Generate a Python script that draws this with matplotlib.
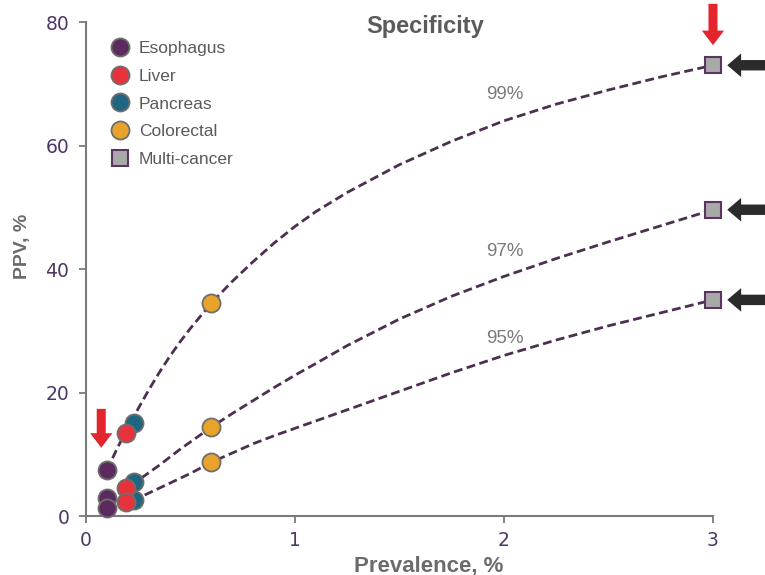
import matplotlib
matplotlib.use("Agg")
import matplotlib.pyplot as plt
from matplotlib.lines import Line2D

# ---- data ----
spec_labels = ["99%", "97%", "95%"]

curve_x = [0.1, 0.15, 0.2, 0.25, 0.3, 0.35, 0.4, 0.45, 0.5, 0.6, 0.7, 0.8, 0.9, 1.0, 1.1,
           1.25, 1.5, 1.75, 2.0, 2.25, 2.5, 2.75, 3.0]
curve_99 = [7.4, 11.0, 14.3, 17.4, 20.4, 23.2, 25.8, 28.2, 30.4, 34.5, 38.0, 41.2, 44.2, 46.9, 49.3,
            52.4, 56.9, 60.7, 64.0, 66.7, 69.0, 71.1, 73.0]
curve_97 = [2.9, 3.7, 4.7, 5.8, 7.0, 8.2, 9.5, 10.8, 12.0, 14.4, 16.6, 18.7, 20.8, 22.8, 24.7,
            27.6, 31.9, 35.6, 38.8, 41.7, 44.4, 47.0, 49.6]
curve_95 = [1.3, 1.8, 2.4, 2.9, 3.7, 4.5, 5.3, 6.1, 6.9, 8.7, 10.2, 11.7, 13.0, 14.2, 15.4,
            17.2, 20.2, 23.2, 26.0, 28.5, 30.8, 32.9, 35.0]

cancers = ["Esophagus", "Liver", "Pancreas", "Colorectal", "Multi-cancer"]
prevalence = {"Esophagus": 0.1, "Liver": 0.19, "Pancreas": 0.23, "Colorectal": 0.6, "Multi-cancer": 3.0}
ppv_values = {  # PPV at specificity 99%, 97%, 95%
    "Esophagus": [7.4, 2.9, 1.3],
    "Liver": [13.4, 4.5, 2.3],
    "Pancreas": [15.1, 5.5, 2.6],
    "Colorectal": [34.5, 14.4, 8.7],
    "Multi-cancer": [73.0, 49.6, 35.0],
}
colors = {"Esophagus": "#5c2a5f", "Liver": "#e8323b", "Pancreas": "#1e6682",
          "Colorectal": "#e9a32a", "Multi-cancer": "#a9a9a9"}
draw_order = ["Esophagus", "Pancreas", "Liver", "Colorectal", "Multi-cancer"]

xticks = [0, 1, 2, 3]
yticks = [0, 20, 40, 60, 80]

SANS = ["Liberation Sans", "DejaVu Sans"]

# ---- figure ----
fig = plt.figure(figsize=(7.65, 5.75), dpi=100)
ax = fig.add_axes([0.1124, 0.1026, 0.8196, 0.8591])

line_col = "#4d2f52"
for ys in (curve_99, curve_97, curve_95):
    ax.plot(curve_x, ys, linestyle=(0, (3.2, 1.6)), color=line_col, lw=2.0, zorder=2)

for c in draw_order:
    x = prevalence[c]
    for y in ppv_values[c]:
        if c == "Multi-cancer":
            ax.plot(x, y, marker="s", ms=11, mfc=colors[c], mec="#5a3560", mew=1.5,
                    ls="none", zorder=4, clip_on=False)
        else:
            ax.plot(x, y, marker="o", ms=13, mfc=colors[c], mec="#6e6e6e", mew=1.3,
                    ls="none", zorder=3, clip_on=False)

# percentage labels
for lab, yv in zip(spec_labels, [68.2, 42.8, 28.8]):
    ax.text(2.005, yv, lab, ha="center", va="center", fontsize=13.5, color="#7a7a7a",
            family=SANS)

# axes styling
ax.set_xlim(0, 3)
ax.set_ylim(0, 80)
ax.set_xticks(xticks)
ax.set_yticks(yticks)
for s in ("top", "right"):
    ax.spines[s].set_visible(False)
for s in ("left", "bottom"):
    ax.spines[s].set_color("#7a7a7a")
    ax.spines[s].set_linewidth(1.5)
ax.tick_params(axis="both", direction="out", length=5, width=1.3, color="#7a7a7a",
               labelsize=13.5, labelcolor="#4f3668")
ax.tick_params(axis="y", pad=7)
ax.tick_params(axis="x", pad=6)

ax.set_xlabel("Prevalence, %", fontsize=16, fontweight="bold", color="#6b6b6b", family=SANS)
ax.xaxis.set_label_coords(0.546, -0.08)
ax.set_ylabel("PPV, %", fontsize=14, fontweight="bold", color="#6b6b6b", family=SANS)
ax.yaxis.set_label_coords(-0.088, 0.545)

ax.text(0.541, 0.991, "Specificity", transform=ax.transAxes, ha="center", va="center",
        fontsize=17, fontweight="bold", color="#5b5b5b", family=SANS)

# legend
handles = []
for c in cancers:
    if c == "Multi-cancer":
        handles.append(Line2D([], [], marker="s", ms=11, mfc=colors[c], mec="#5a3560",
                              mew=1.5, ls="none"))
    else:
        handles.append(Line2D([], [], marker="o", ms=13, mfc=colors[c], mec="#6e6e6e",
                              mew=1.3, ls="none"))
leg = ax.legend(handles, cancers, loc="upper left", bbox_to_anchor=(0.014, 0.986),
                frameon=False, prop={"family": SANS, "size": 12.5}, labelspacing=0.72,
                handletextpad=0.35, borderpad=0.2, handlelength=1.5)
for t in leg.get_texts():
    t.set_color("#5a5a5a")

# arrows
red = "#e3262e"
red_style = "simple,head_width=1.6,head_length=1.05,tail_width=0.65"
ax.annotate("", xy=(0.073, 10.6), xytext=(0.073, 17.8),
            arrowprops=dict(arrowstyle=red_style, color=red, lw=0), annotation_clip=False)
ax.annotate("", xy=(3.0, 75.8), xytext=(3.0, 83.4),
            arrowprops=dict(arrowstyle=red_style, color=red, lw=0), annotation_clip=False)
for y in ppv_values["Multi-cancer"]:
    ax.annotate("", xy=(3.055, y), xytext=(3.27, y),
                arrowprops=dict(arrowstyle="simple,head_width=1.7,head_length=1.0,tail_width=0.75",
                                color="#2b2b2b", lw=0), annotation_clip=False)

fig.savefig("out.png", dpi=100)
